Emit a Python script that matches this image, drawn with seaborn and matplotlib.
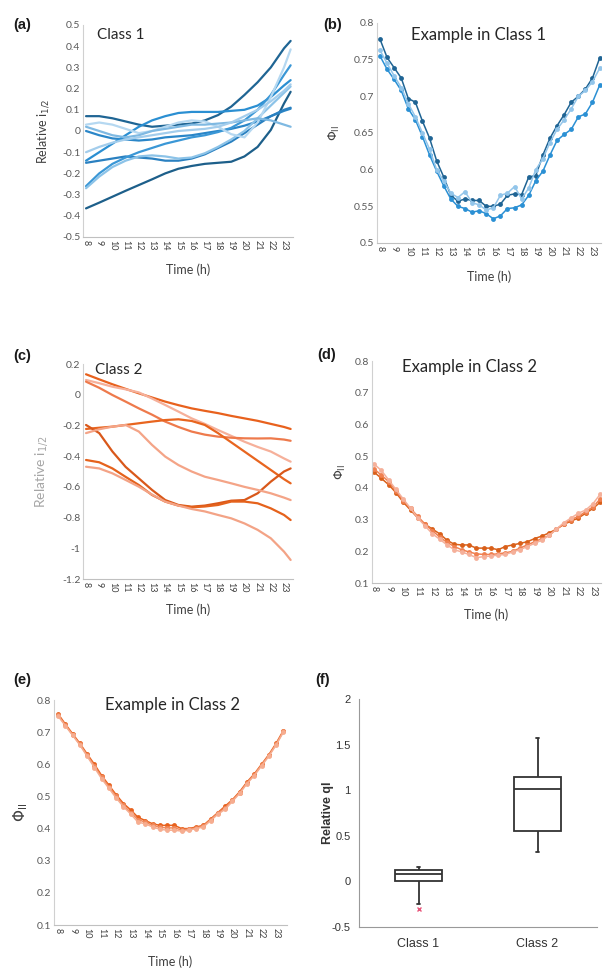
import matplotlib.pyplot as plt
import pandas as pd
import seaborn as sns

sns.set_style("white")
plt.rcParams['font.family'] = ['Lato', 'DejaVu Sans']
plt.rcParams['mathtext.fontset'] = 'dejavusans'

# ---- data ----
hours = [8, 9, 10, 11, 12, 13, 14, 15, 16, 17, 18, 19, 20, 21, 22, 23, 23.5]
half_hours = [8, 8.5, 9, 9.5, 10, 10.5, 11, 11.5, 12, 12.5, 13, 13.5, 14, 14.5, 15, 15.5,
              16, 16.5, 17, 17.5, 18, 18.5, 19, 19.5, 20, 20.5, 21, 21.5, 22, 22.5, 23, 23.5]
hour_ticks = [8, 9, 10, 11, 12, 13, 14, 15, 16, 17, 18, 19, 20, 21, 22, 23]

# (a) class 1, relative i1/2
a1 = [-0.365, -0.338, -0.31, -0.282, -0.255, -0.228, -0.2, -0.178, -0.165, -0.155, -0.15, -0.145, -0.12, -0.075, 0.005, 0.13, 0.185]
a2 = [0.07, 0.07, 0.06, 0.045, 0.03, 0.02, 0.025, 0.03, 0.035, 0.05, 0.075, 0.115, 0.17, 0.23, 0.3, 0.39, 0.425]
a3 = [0.0, -0.02, -0.035, -0.04, -0.045, -0.04, -0.03, -0.025, -0.02, -0.01, 0.0, 0.01, 0.025, 0.045, 0.07, 0.095, 0.105]
a4 = [-0.14, -0.1, -0.06, -0.02, 0.02, 0.05, 0.07, 0.085, 0.09, 0.09, 0.09, 0.095, 0.1, 0.12, 0.16, 0.215, 0.24]
a5 = [-0.15, -0.14, -0.13, -0.12, -0.125, -0.13, -0.14, -0.14, -0.13, -0.11, -0.08, -0.05, -0.01, 0.03, 0.07, 0.1, 0.11]
a6 = [-0.26, -0.2, -0.155, -0.125, -0.1, -0.08, -0.06, -0.045, -0.03, -0.02, -0.005, 0.015, 0.05, 0.1, 0.17, 0.265, 0.31]
a7 = [-0.27, -0.215, -0.17, -0.14, -0.12, -0.115, -0.12, -0.13, -0.125, -0.105, -0.075, -0.04, 0.0, 0.06, 0.12, 0.18, 0.21]
a8 = [0.03, 0.04, 0.03, 0.01, -0.01, 0.0, 0.02, 0.04, 0.05, 0.045, 0.02, -0.015, -0.03, 0.04, 0.16, 0.3, 0.385]
a9 = [0.02, 0.0, -0.02, -0.03, -0.02, 0.0, 0.01, 0.02, 0.03, 0.03, 0.035, 0.04, 0.05, 0.06, 0.05, 0.03, 0.02]
a10 = [-0.1, -0.075, -0.055, -0.04, -0.03, -0.02, -0.01, 0.0, 0.005, 0.01, 0.02, 0.04, 0.07, 0.1, 0.14, 0.19, 0.22]
a_colors = ['#1d5f8a', '#1f6594', '#2a86c8', '#2b8fd2', '#2a80c0', '#3a97d6', '#8cc3e8', '#b5d8f1', '#7fb9e2', '#a3cdec']

# (b) example in class 1, PhiII
b1 = [0.778, 0.753, 0.739, 0.725, 0.697, 0.692, 0.666, 0.643, 0.612, 0.59, 0.565, 0.557, 0.56, 0.558, 0.558, 0.55,
      0.55, 0.553, 0.565, 0.567, 0.566, 0.59, 0.592, 0.62, 0.643, 0.66, 0.675, 0.692, 0.7, 0.71, 0.725, 0.752]
b2 = [0.755, 0.737, 0.723, 0.708, 0.683, 0.668, 0.645, 0.62, 0.598, 0.578, 0.56, 0.55, 0.547, 0.542, 0.544, 0.54,
      0.533, 0.537, 0.547, 0.548, 0.552, 0.565, 0.585, 0.598, 0.62, 0.64, 0.648, 0.655, 0.672, 0.676, 0.692, 0.715]
b3 = [0.763, 0.745, 0.728, 0.712, 0.69, 0.672, 0.65, 0.628, 0.6, 0.585, 0.568, 0.562, 0.57, 0.555, 0.552, 0.545,
      0.548, 0.565, 0.568, 0.577, 0.56, 0.575, 0.6, 0.615, 0.637, 0.655, 0.668, 0.683, 0.7, 0.708, 0.72, 0.738]
b_colors = ['#1f6494', '#2b90d4', '#92c5ea']

# (c) class 2, relative i1/2
c1 = [0.133, 0.1, 0.068, 0.038, 0.009, -0.018, -0.045, -0.068, -0.089, -0.105, -0.12, -0.138, -0.154, -0.17, -0.19, -0.21, -0.223]
c2 = [0.096, 0.075, 0.052, 0.035, 0.015, -0.025, -0.067, -0.11, -0.154, -0.19, -0.23, -0.268, -0.306, -0.34, -0.37, -0.415, -0.436]
c3 = [0.085, 0.045, -0.002, -0.045, -0.089, -0.13, -0.175, -0.21, -0.24, -0.26, -0.273, -0.28, -0.284, -0.285, -0.284, -0.292, -0.3]
c4 = [-0.223, -0.215, -0.208, -0.197, -0.186, -0.175, -0.165, -0.16, -0.171, -0.197, -0.25, -0.31, -0.37, -0.43, -0.49, -0.55, -0.577]
c5 = [-0.197, -0.25, -0.37, -0.47, -0.545, -0.62, -0.686, -0.718, -0.729, -0.722, -0.707, -0.69, -0.686, -0.642, -0.566, -0.5, -0.48]
c6 = [-0.25, -0.225, -0.208, -0.197, -0.24, -0.327, -0.403, -0.458, -0.5, -0.534, -0.555, -0.577, -0.6, -0.62, -0.642, -0.67, -0.686]
c7 = [-0.425, -0.44, -0.48, -0.535, -0.588, -0.653, -0.696, -0.722, -0.733, -0.728, -0.718, -0.696, -0.696, -0.707, -0.74, -0.783, -0.816]
c8 = [-0.469, -0.48, -0.512, -0.555, -0.599, -0.65, -0.696, -0.722, -0.744, -0.76, -0.783, -0.805, -0.838, -0.88, -0.935, -1.022, -1.076]
c_colors = ['#e8611d', '#f6b09a', '#ee7a4c', '#e8651f', '#d9581a', '#f4a487', '#e5621c', '#f3a386']

# (d) example in class 2, PhiII
d1 = [0.45, 0.43, 0.41, 0.385, 0.355, 0.33, 0.305, 0.285, 0.27, 0.255, 0.235, 0.222, 0.22, 0.22, 0.21, 0.21,
      0.21, 0.205, 0.215, 0.22, 0.225, 0.23, 0.24, 0.248, 0.258, 0.27, 0.285, 0.295, 0.305, 0.32, 0.335, 0.355]
d2 = [0.46, 0.44, 0.42, 0.39, 0.36, 0.335, 0.31, 0.285, 0.265, 0.245, 0.228, 0.215, 0.205, 0.198, 0.192, 0.19,
      0.19, 0.192, 0.195, 0.2, 0.21, 0.22, 0.23, 0.24, 0.25, 0.27, 0.285, 0.3, 0.31, 0.325, 0.34, 0.365]
d3 = [0.475, 0.455, 0.425, 0.395, 0.365, 0.335, 0.305, 0.28, 0.255, 0.238, 0.22, 0.205, 0.198, 0.19, 0.18, 0.183,
      0.185, 0.188, 0.19, 0.198, 0.205, 0.215, 0.225, 0.235, 0.25, 0.27, 0.29, 0.305, 0.32, 0.33, 0.35, 0.38]
d_colors = ['#d9601a', '#f08050', '#f5b09a']

# (e) example in class 2, PhiII
e1 = [0.757, 0.725, 0.695, 0.665, 0.632, 0.6, 0.565, 0.535, 0.505, 0.478, 0.458, 0.435, 0.425, 0.415, 0.41, 0.41,
      0.41, 0.4, 0.4, 0.405, 0.41, 0.43, 0.45, 0.47, 0.49, 0.515, 0.545, 0.57, 0.6, 0.63, 0.665, 0.705]
e2 = [0.753, 0.722, 0.692, 0.662, 0.628, 0.595, 0.56, 0.53, 0.5, 0.472, 0.45, 0.428, 0.42, 0.41, 0.404, 0.402,
      0.402, 0.396, 0.398, 0.402, 0.408, 0.428, 0.448, 0.465, 0.488, 0.512, 0.542, 0.568, 0.598, 0.628, 0.662, 0.703]
e3 = [0.75, 0.72, 0.69, 0.66, 0.625, 0.59, 0.555, 0.525, 0.495, 0.468, 0.445, 0.42, 0.415, 0.405, 0.398, 0.395,
      0.395, 0.392, 0.395, 0.4, 0.405, 0.425, 0.445, 0.46, 0.485, 0.51, 0.54, 0.565, 0.595, 0.625, 0.66, 0.7]
e_colors = ['#e8611d', '#f08a5d', '#f6ad90']

# (f) relative ql per class
ql_class1 = [-0.3, -0.25, 0.0, 0.05, 0.08, 0.1, 0.13, 0.15, 0.16]
ql_class2 = [0.32, 0.45, 0.55, 0.8, 1.01, 1.08, 1.15, 1.3, 1.57]
class_names = ['Class 1', 'Class 2']

a_yticks = [-0.5, -0.4, -0.3, -0.2, -0.1, 0, 0.1, 0.2, 0.3, 0.4, 0.5]
b_yticks = [0.5, 0.55, 0.6, 0.65, 0.7, 0.75, 0.8]
c_yticks = [-1.2, -1, -0.8, -0.6, -0.4, -0.2, 0, 0.2]
de_yticks = [0.1, 0.2, 0.3, 0.4, 0.5, 0.6, 0.7, 0.8]
f_yticks = [-0.5, 0, 0.5, 1, 1.5, 2]

W, H = 603, 971


def box(l, r, t, b):
    return [l / W, 1 - b / H, (r - l) / W, (b - t) / H]


def long_df(x, curves):
    rows = []
    for i, vals in enumerate(curves):
        for xv, yv in zip(x, vals):
            rows.append({'time': xv, 'value': yv, 'series': f's{i}'})
    return pd.DataFrame(rows)


def style_time_axes(ax, yticks, xlim, ylabel, ylabel_x, xlabel_y, ycolor='#404040', ysize=9):
    ax.set_xlim(*xlim)
    ax.set_ylim(yticks[0], yticks[-1])
    ax.set_yticks(yticks)
    ax.set_yticklabels([f'{v:g}' for v in yticks], fontsize=7.5, color='#595959')
    ax.set_xticks(hour_ticks)
    ax.set_xticklabels([str(h) for h in hour_ticks], rotation=-90, fontsize=6.5, color='#404040')
    ax.tick_params(length=0, pad=2)
    for s in ['top', 'right']:
        ax.spines[s].set_visible(False)
    ax.spines['left'].set_color('#d0d0d0')
    ax.spines['bottom'].set_color('#c0c0c0')
    ax.set_xlabel('Time (h)', fontsize=9, color='#404040')
    ax.xaxis.set_label_coords(0.5, xlabel_y)
    ax.set_ylabel(ylabel, fontsize=ysize, color=ycolor)
    ax.yaxis.set_label_coords(ylabel_x, 0.5)


fig = plt.figure(figsize=(W / 100, H / 100), dpi=100)

# (a)
ax = fig.add_axes(box(83, 293, 25, 237))
df = long_df(hours, [a1, a2, a3, a4, a5, a6, a7, a8, a9, a10])
sns.lineplot(data=df, x='time', y='value', hue='series', palette=a_colors, linewidth=1.6,
             legend=False, ax=ax)
style_time_axes(ax, a_yticks, (7.77, 23.68), 'Relative i$_{1/2}$', -0.152, -0.125)
ax.text(0.067, 0.953, 'Class 1', transform=ax.transAxes, fontsize=11, va='center', color='#262626')

# (b)
ax = fig.add_axes(box(377, 601, 23, 243))
df = long_df(half_hours, [b1, b2, b3])
sns.lineplot(data=df, x='time', y='value', hue='series', palette=b_colors, linewidth=1.1,
             marker='o', markersize=3.5, markeredgewidth=0, legend=False, ax=ax)
style_time_axes(ax, b_yticks, (7.79, 23.6), r'$\Phi_{\rm II}$', -0.156, -0.125)
ax.text(0.152, 0.945, 'Example in Class 1', transform=ax.transAxes, fontsize=12, va='center', color='#262626')

# (c)
ax = fig.add_axes(box(83, 293, 364, 579))
df = long_df(hours, [c1, c2, c3, c4, c5, c6, c7, c8])
sns.lineplot(data=df, x='time', y='value', hue='series', palette=c_colors, linewidth=1.6,
             legend=False, ax=ax)
style_time_axes(ax, c_yticks, (7.77, 23.68), 'Relative i$_{1/2}$', -0.157, -0.115,
                ycolor='#a6a6a6', ysize=10)
ax.text(0.057, 0.972, 'Class 2', transform=ax.transAxes, fontsize=11, va='center', color='#262626')

# (d)
ax = fig.add_axes(box(372, 601, 361, 583))
df = long_df(half_hours, [d1, d2, d3])
sns.lineplot(data=df, x='time', y='value', hue='series', palette=d_colors, linewidth=1.1,
             marker='o', markersize=3.5, markeredgewidth=0, legend=False, ax=ax)
style_time_axes(ax, de_yticks, (7.86, 23.55), r'$\Phi_{\rm II}$', -0.105, -0.115)
ax.text(0.131, 0.973, 'Example in Class 2', transform=ax.transAxes, fontsize=12, va='center', color='#262626')

# (e)
ax = fig.add_axes(box(54, 287, 700, 925))
df = long_df(half_hours, [e1, e2, e3])
sns.lineplot(data=df, x='time', y='value', hue='series', palette=e_colors, linewidth=1.1,
             marker='o', markersize=3.5, markeredgewidth=0, legend=False, ax=ax)
style_time_axes(ax, de_yticks, (7.72, 23.75), r'$\Phi_{\rm II}$', -0.103, -0.135, ysize=11)
ax.text(0.219, 0.978, 'Example in Class 2', transform=ax.transAxes, fontsize=12, va='center', color='#262626')

# (f)
ax = fig.add_axes(box(359, 597, 699, 927))
df = pd.DataFrame({'cls': [class_names[0]] * len(ql_class1) + [class_names[1]] * len(ql_class2),
                   'ql': ql_class1 + ql_class2})
sns.boxplot(data=df, x='cls', y='ql', whis=2, width=0.4, color='white', linecolor='#333333',
            linewidth=1.3, flierprops=dict(marker='x', markeredgecolor='#e8557a', markersize=3),
            ax=ax)
# shrink the whisker caps to tiny ticks like the original
for ln in ax.lines:
    xd, yd = ln.get_xdata(), ln.get_ydata()
    if len(xd) == 2 and yd[0] == yd[1] and 0 < abs(xd[1] - xd[0]) < 0.3:
        mid = (xd[0] + xd[1]) / 2
        ln.set_xdata([mid - 0.015, mid + 0.015])
ax.set_ylim(-0.5, 2)
ax.set_xlim(-0.5, 1.5)
ax.set_yticks(f_yticks)
ax.set_yticklabels([f'{v:g}' for v in f_yticks], fontsize=8, color='#333333', family='Liberation Sans')
ax.set_xticks([0, 1])
ax.set_xticklabels(class_names, fontsize=9, color='#333333', family='Liberation Sans')
ax.tick_params(axis='y', length=3, color='#999999', pad=3)
ax.tick_params(axis='x', length=0, pad=8)
for s in ['top', 'right']:
    ax.spines[s].set_visible(False)
ax.spines['left'].set_color('#999999')
ax.spines['bottom'].set_color('#999999')
ax.set_xlabel('')
ax.set_ylabel('Relative ql', fontsize=9, color='#333333', family='Liberation Sans', fontweight='bold')
ax.yaxis.set_label_coords(-0.105, 0.5)

# panel letters
for lbl, x, y in [('(a)', 13, 25), ('(b)', 323, 25), ('(c)', 13, 356),
                  ('(d)', 317, 355), ('(e)', 13, 680), ('(f)', 315, 680)]:
    fig.text(x / W, 1 - y / H, lbl, fontsize=10.5, fontweight='bold', va='center',
             family='Liberation Sans', color='#1a1a1a')

fig.savefig('out.png', dpi=100)
